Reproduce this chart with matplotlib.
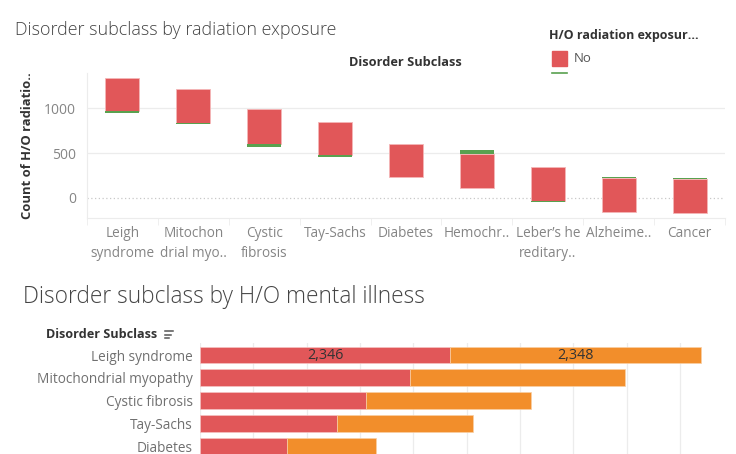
import numpy as np
import matplotlib.pyplot as plt
from matplotlib.lines import Line2D

plt.rcParams["font.family"] = ["Open Sans", "DejaVu Sans"]

# radiation exposure chart (floating segments per subclass)
rad_cats = ["Leigh\nsyndrome", "Mitochon\ndrial myo..", "Cystic\nfibrosis", "Tay-Sachs",
            "Diabetes", "Hemochr..", "Leber\u2019s he\nreditary..", "Alzheime..", "Cancer"]
red_low = [967, 837, 607, 474, 237, 107, -30, -156, -167]
red_high = [1344, 1219, 989, 848, 607, 485, 348, 222, 207]
green_low = [948, 826, 567, 452, 237, 485, -44, 222, 207]
green_high = [967, 837, 607, 474, 237, 533, -30, 233, 219]
rad_yticks = [0, 500, 1000]

# mental illness chart
mental_cats = ["Leigh syndrome", "Mitochondrial myopathy", "Cystic fibrosis", "Tay-Sachs", "Diabetes"]
mental_a = [2346, 1968, 1556, 1281, 812]
mental_b = [2348, 2016, 1546, 1281, 838]
mental_xticks = [0, 500, 1000, 1500, 2000, 2500, 3000, 3500, 4000, 4500]

RED = "#E15759"
GREEN = "#59A14F"
ORANGE = "#F28E2B"
GRID = "#ECECEC"
TICK = "#858585"
DARK = "#333333"

fig = plt.figure(figsize=(7.36, 4.54), dpi=100)
W, H = 736, 454


def box(l, t, r, b):
    return [l / W, 1 - b / H, (r - l) / W, (b - t) / H]


# ---- top chart ----
ax = fig.add_axes(box(87, 73, 725, 218))
x = np.arange(len(rad_cats))
ax.bar(x, np.array(red_high) - np.array(red_low), bottom=red_low, width=0.48,
       color=RED, edgecolor="#F4B6B7", linewidth=0.6, zorder=3)
ax.bar(x, np.array(green_high) - np.array(green_low), bottom=green_low, width=0.48,
       color=GREEN, linewidth=0, zorder=3)
ax.set_xlim(-0.5, len(rad_cats) - 0.5)
ax.set_ylim(-225, 1395)
ax.set_yticks(rad_yticks)
ax.set_yticklabels([str(v) for v in rad_yticks])
for v in rad_yticks[1:]:
    ax.axhline(v, color=GRID, linewidth=0.9, zorder=1)
ax.axhline(0, color="#C8C8C8", linewidth=0.9, linestyle=(0, (1, 2)), zorder=1)
ax.set_xticks(x)
ax.set_xticklabels(rad_cats, linespacing=1.4)
ax.set_xticks(np.arange(len(rad_cats) + 1) - 0.5, minor=True)
ax.tick_params(axis="x", which="major", length=0, pad=6, labelsize=9.8, labelcolor=TICK)
ax.tick_params(axis="x", which="minor", length=5, color=GRID)
ax.tick_params(axis="y", length=0, pad=8, labelsize=10, labelcolor=TICK)
for s in ["top", "right"]:
    ax.spines[s].set_visible(False)
for s in ["left", "bottom"]:
    ax.spines[s].set_color(GRID)
ax.set_ylabel("Count of H/O radiatio..", fontsize=9.4, fontweight="bold", color=DARK, labelpad=7)

fig.text(15 / W, 1 - 30 / H, "Disorder subclass by radiation exposure", fontsize=12.9,
         fontweight="light", color="#444444", va="center", ha="left")
fig.text(405 / W, 1 - 62 / H, "Disorder Subclass", fontsize=9.2, fontweight="bold",
         color=DARK, va="center", ha="center")

# legend
fig.text(549 / W, 1 - 36 / H, "H/O radiation exposur...", fontsize=9, fontweight="bold",
         color=DARK, va="center", ha="left")
fig.patches.append(plt.Rectangle((552 / W, 1 - 66 / H), 15 / W, 15 / H,
                                 transform=fig.transFigure, color=RED))
fig.text(574 / W, 1 - 59 / H, "No", fontsize=9.5, color="#555555", va="center", ha="left")
fig.add_artist(Line2D([552 / W, 567 / W], [1 - 72.5 / H, 1 - 72.5 / H], color=GREEN, linewidth=1.2))

# ---- bottom chart ----
bx = fig.add_axes(box(200, 343, 729, 454))
y = np.arange(len(mental_cats))
bx.barh(y, mental_a, height=0.73, color=RED, edgecolor="#F6C3C3", linewidth=0.5, zorder=3)
bx.barh(y, mental_b, left=mental_a, height=0.73, color=ORANGE, edgecolor="#F9CFA4",
        linewidth=0.5, zorder=3)
bx.set_ylim(4.35, -0.53)
bx.set_xlim(0, 4960)
bx.set_xticks(mental_xticks)
bx.grid(axis="x", color=GRID, linewidth=0.9, zorder=0)
bx.tick_params(axis="x", length=0, labelbottom=False)
bx.set_yticks(y)
bx.set_yticklabels(mental_cats)
bx.tick_params(axis="y", length=0, pad=5, labelsize=9.8, labelcolor="#707070")
for s in bx.spines.values():
    s.set_visible(False)
bx.text(mental_a[0] / 2, 0, f"{mental_a[0]:,}", ha="center", va="center", fontsize=10.3, color=DARK, zorder=4)
bx.text(mental_a[0] + mental_b[0] / 2, 0, f"{mental_b[0]:,}", ha="center", va="center",
        fontsize=10.3, color=DARK, zorder=4)

fig.text(23 / W, 1 - 297 / H, "Disorder subclass by H/O mental illness", fontsize=16.3,
         fontweight="light", color="#444444", va="center", ha="left")
fig.text(46 / W, 1 - 334 / H, "Disorder Subclass", fontsize=9.1, fontweight="bold",
         color=DARK, va="center", ha="left")
# sort icon
for i, ln in enumerate([8, 6, 3.5]):
    yy = 1 - (331 + i * 3.5) / H
    fig.add_artist(Line2D([165 / W, (165 + ln) / W], [yy, yy], color="#555555", linewidth=1.1))

fig.savefig("out.png", dpi=100)
